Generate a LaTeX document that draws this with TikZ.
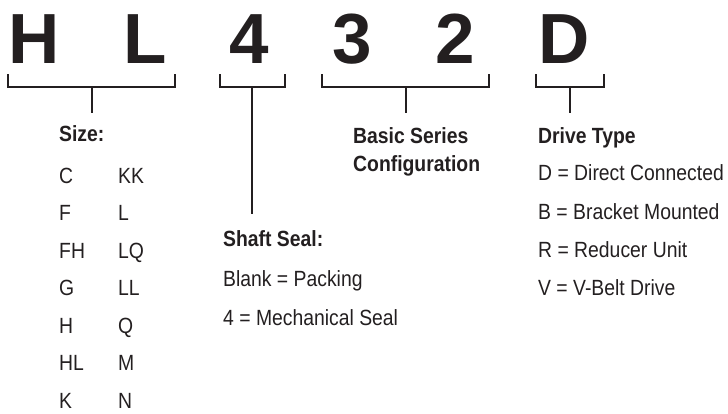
\documentclass[tikz,border=0pt]{standalone}
\usepackage{fontspec}
\setmainfont{Liberation Sans}[FakeStretch=0.88]
\newfontfamily\codefont{Liberation Sans}
\definecolor{ink}{HTML}{231F20}
\begin{document}
\begin{tikzpicture}[x=1pt,y=-1pt,
  codeletter/.style={inner sep=0pt,anchor=base,font=\codefont\fontsize{71}{71}\bfseries\selectfont,text=ink},
  headtxt/.style={inner sep=0pt,anchor=base west,text depth=0pt,font=\fontsize{22}{26}\bfseries\selectfont,text=ink},
  bodytxt/.style={inner sep=0pt,anchor=base west,text depth=0pt,font=\fontsize{22}{26}\selectfont,text=ink},
  bracketline/.style={draw=ink,line width=2pt,line cap=butt,line join=miter}]
\useasboundingbox (0,0) rectangle (728,413);
% code letters
\node[codeletter] (cH) at (34,63) {H};
\node[codeletter] (cL) at (145,63) {L};
\node[codeletter] (c4) at (249,63) {4};
\node[codeletter] (c3) at (352,63) {3};
\node[codeletter] (c2) at (455,63) {2};
\node[codeletter] (cD) at (564,63) {D};
% brackets
\foreach \nm/\l/\r/\s/\e in {bA/8/175/92/113, bB/220/285/252/214, bC/322/489/406/113, bD/536/604/570/113}{
  \coordinate (\nm-lt) at (\l,74);
  \coordinate (\nm-rt) at (\r,74);
  \coordinate (\nm-stem) at (\s,87);
  \coordinate (\nm-end) at (\s,\e);
  \draw[bracketline] (\nm-lt) |- (\nm-stem) -| (\nm-rt);
  \draw[bracketline] (\nm-stem) -- (\nm-end);
}
% Size
\node[headtxt] (size) at (59,141) {Size:};
\foreach \a/\b/\y [count=\i] in {C/KK/183, F/L/220.5, FH/LQ/258, G/LL/295.5, H/Q/333, HL/M/370.5, K/N/408}{
  \node[bodytxt] (sa\i) at (59,\y) {\a};
  \node[bodytxt] (sb\i) at (118,\y) {\b};
}
% Shaft seal
\node[headtxt] (seal) at (223,246) {Shaft Seal:};
\node[bodytxt] (seal1) at (223,286) {Blank = Packing};
\node[bodytxt] (seal2) at (223,325) {4 = Mechanical Seal};
% Basic series
\node[headtxt] (bs1) at (353,143) {Basic Series};
\node[headtxt] (bs2) at (353,171) {Configuration};
% Drive type
\node[headtxt] (dt) at (538,143) {Drive Type};
\node[bodytxt] (dt1) at (538,180) {D = Direct Connected};
\node[bodytxt] (dt2) at (538,219) {B = Bracket Mounted};
\node[bodytxt] (dt3) at (538,257) {R = Reducer Unit};
\node[bodytxt] (dt4) at (538,295) {V = V-Belt Drive};
\end{tikzpicture}
\end{document}
